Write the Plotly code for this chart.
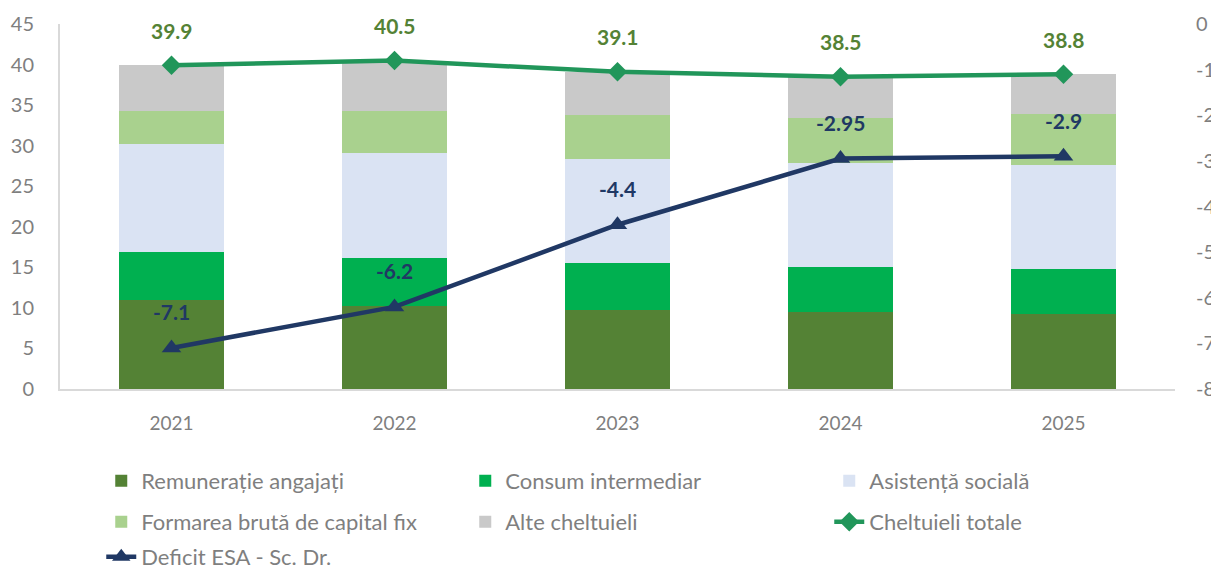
import plotly.graph_objects as go

years = ["2021", "2022", "2023", "2024", "2025"]
remuneratie = [11.0, 10.2, 9.8, 9.5, 9.3]
consum = [5.9, 5.9, 5.7, 5.6, 5.5]
asistenta = [13.3, 13.0, 12.9, 12.8, 12.8]
formare = [4.1, 5.2, 5.4, 5.55, 6.25]
alte = [5.6, 6.2, 5.3, 5.05, 4.95]
total = [39.9, 40.5, 39.1, 38.5, 38.8]
total_labels = ["39.9", "40.5", "39.1", "38.5", "38.8"]
deficit = [-7.1, -6.2, -4.4, -2.95, -2.9]
deficit_labels = ["-7.1", "-6.2", "-4.4", "-2.95", "-2.9"]
right_ticks = [0, -1, -2, -3, -4, -5, -6, -7, -8]
right_tick_labels = ["0", "-1", "-2", "-3", "-4", "-5", "-6", "-7", "-8"]

xpos = list(range(len(years)))

FONT = "Lato, Liberation Sans, Arial"
TICK_COLOR = "#7f7f7f"

fig = go.Figure()
bars = [
    ("Remunerație angajați", remuneratie, "#548235", "legend"),
    ("Consum intermediar", consum, "#00b050", "legend"),
    ("Asistență socială", asistenta, "#dae3f3", "legend"),
    ("Formarea brută de capital fix", formare, "#a9d18e", "legend2"),
    ("Alte cheltuieli", alte, "#c9c9c9", "legend2"),
]
for name, vals, col, lg in bars:
    fig.add_trace(go.Bar(x=xpos, y=vals, name=name, marker=dict(color=col, line=dict(width=0)),
                         legend=lg, hoverinfo="y+name"))

fig.add_trace(go.Scatter(x=xpos, y=total, name="Cheltuieli totale", mode="lines+markers",
                         line=dict(color="#21965a", width=4.5),
                         marker=dict(symbol="diamond", size=15, color="#21965a"),
                         legend="legend2"))

fig.add_trace(go.Scatter(x=xpos, y=deficit, name="Deficit ESA - Sc. Dr.", mode="lines+markers",
                         line=dict(color="#203864", width=4.5),
                         marker=dict(symbol="triangle-up", size=17, color="#203864"),
                         yaxis="y2", legend="legend3"))

for xp, t, lab in zip(xpos, total, total_labels):
    fig.add_annotation(x=xp, y=t, xref="x", yref="y", text=lab, showarrow=False, yshift=35,
                       font=dict(color="#548235", size=21, family=FONT, weight="bold"))

for xp, d, lab in zip(xpos, deficit, deficit_labels):
    fig.add_annotation(x=xp, y=d, xref="x", yref="y2", text=lab, showarrow=False, yshift=36,
                       font=dict(color="#203864", size=21, family=FONT, weight="bold"))

legend_common = dict(orientation="h", xanchor="left", yanchor="middle", x=0.037,
                     traceorder="normal",
                     font=dict(family=FONT, size=22, color=TICK_COLOR),
                     entrywidth=319, entrywidthmode="pixels", bgcolor="rgba(0,0,0,0)")

# the page body adds an 8px margin, so the figure is sized to fit the 1219x570 window
fig.update_layout(
    barmode="stack",
    bargap=0.525,
    width=1211, height=562,
    margin=dict(l=52, r=44, t=16, b=181, autoexpand=False),
    plot_bgcolor="white", paper_bgcolor="white",
    font=dict(family=FONT, size=18, color=TICK_COLOR),
    xaxis=dict(tickmode="array", tickvals=xpos, ticktext=years, range=[-0.5, len(years) - 0.5],
               showgrid=False, showline=True, linecolor="#d9d9d9", linewidth=2, zeroline=False,
               ticks="", ticklabelstandoff=16, tickfont=dict(size=19, color=TICK_COLOR)),
    yaxis=dict(range=[0, 45], dtick=5, showgrid=False, showline=True, linecolor="#d9d9d9",
               linewidth=2, zeroline=False, ticks="", ticklabelstandoff=20,
               tickfont=dict(size=20, color=TICK_COLOR)),
    yaxis2=dict(range=[-8, 0], tickmode="array", tickvals=right_ticks, ticktext=right_tick_labels,
                overlaying="y", side="right", showgrid=False,
                showline=False, zeroline=False, ticks="", ticklabelstandoff=20,
                tickfont=dict(size=20, color=TICK_COLOR)),
    legend=dict(**legend_common, y=-0.252),
    legend2=dict(**legend_common, y=-0.364),
    legend3=dict(**legend_common, y=-0.46),
    showlegend=True,
)

fig.write_html("out.html")
